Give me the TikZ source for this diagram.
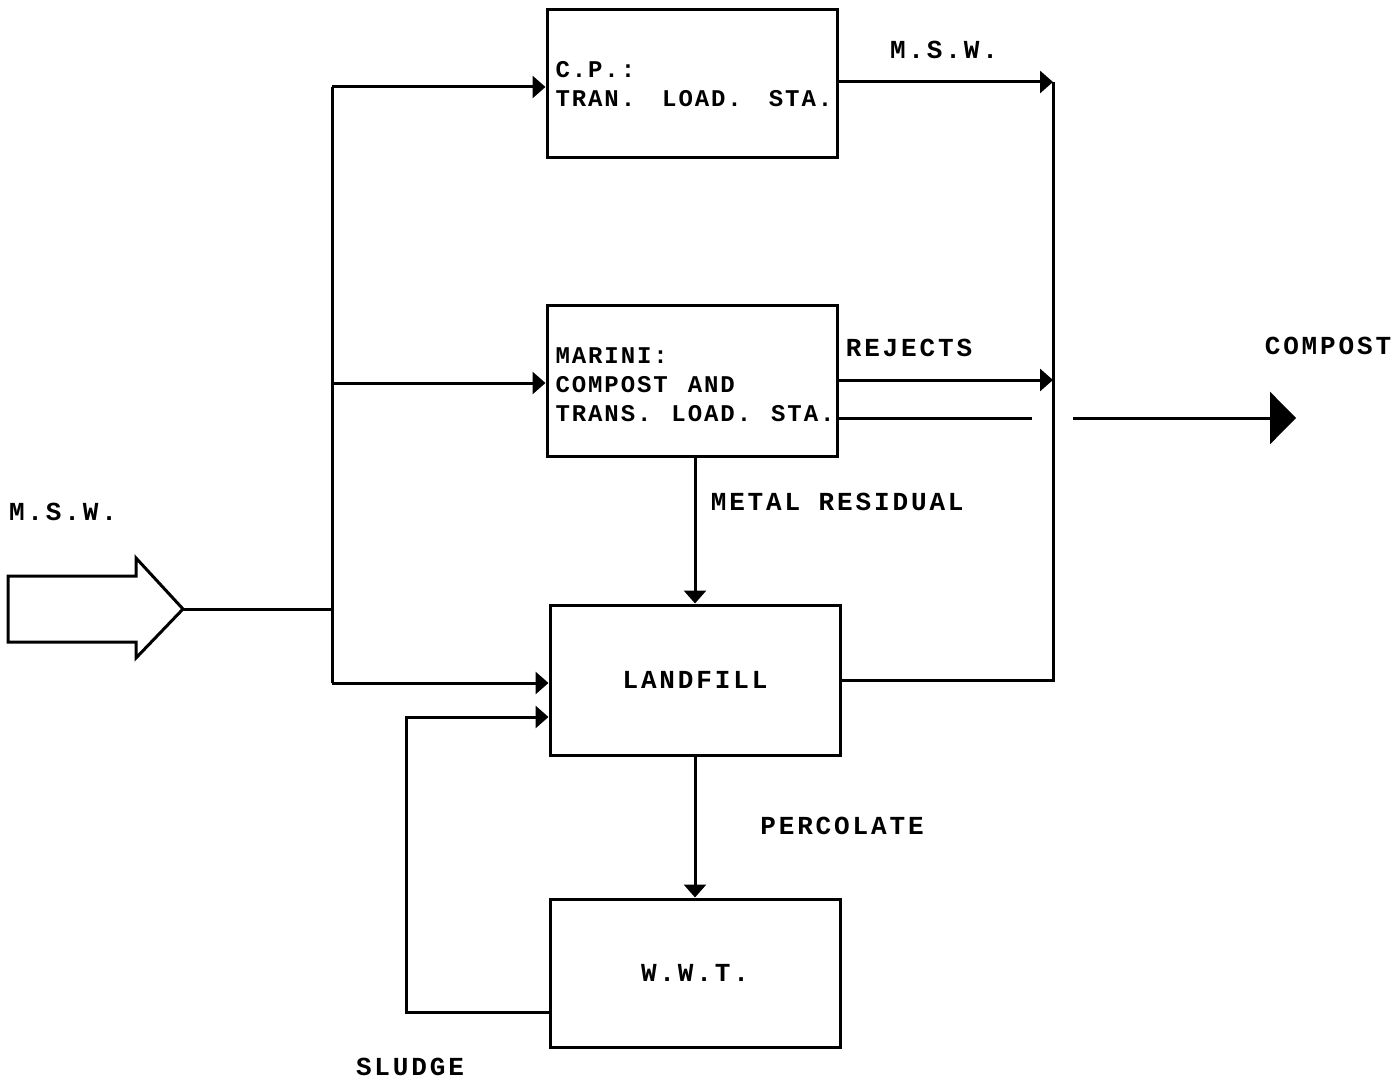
\documentclass[tikz,border=0pt]{standalone}
\usepackage{fontspec}
\newfontfamily\fuenteetiq[LetterSpace=11]{Liberation Mono}
\newfontfamily\fuentecaja[LetterSpace=8]{Liberation Mono}
\usetikzlibrary{positioning, arrows.meta, calc}
\newcommand{\esp}[1][20pt]{\hspace{#1}} % espacio ancho entre palabras de las cajas

\begin{document}
\begin{tikzpicture}[x=1pt, y=-1pt, line width=3pt,
		>={Triangle[length=13pt, width=22pt]},
		caja/.style={draw, minimum width=290pt, minimum height=148pt, inner sep=0pt},
		rotulo/.style={font=\fontsize{26}{29}\fuenteetiq\bfseries},
		textocaja/.style={font=\fontsize{24}{29}\fuentecaja\bfseries, text width=277pt, align=left}]
		
		% Parámetros geométricos
		\def\Xbus{332}      % Colector vertical de entrada
		\def\Xsal{1053}     % Colector vertical de salida
		
		\useasboundingbox (0,0) rectangle (1400,1083);
		
		% --- 1. CAJAS DEL PROCESO ---
		\node[caja] (cp) at (692,84) {};
		\node[textocaja] at ($(cp.center)+(2,0)$) {C.P.:\\TRAN.\esp[27pt]LOAD.\esp[27pt]STA.};
		\node[caja, minimum height=150pt] (marini) at (692,381) {};
		\node[textocaja] at ($(marini.center)+(2,4)$) {MARINI:\\COMPOST\esp AND\\TRANS.\esp LOAD.\esp STA.};
		\node[caja, minimum height=150pt, rotulo] (landfill) at (695,680) {LANDFILL};
		\node[caja, rotulo] (wwt) at (695,973) {W.W.T.};
		
		% --- 2. ENTRADA DE RESIDUOS (M.S.W.) ---
		\draw (8,576) -- (136,576) -- (136,558) -- (183,609) coordinate (punta)
		      -- (136,658) -- (136,642) -- (8,642) -- cycle;
		\node[rotulo] (msw) at (63,512) {M.S.W.};
		\coordinate (bus) at (\Xbus,609);
		\draw (punta) -- (bus);
		
		% Colector y ramales hacia las cajas
		\coordinate (busA) at (\Xbus,87);
		\coordinate (busB) at (\Xbus,383);
		\coordinate (busC) at (\Xbus,683);
		\draw (busA) -- (busC);
		\draw[->] (busA) -- (busA -| cp.west);
		\draw[->] (busB) -- (busB -| marini.west);
		\draw[->] (busC) -- (busC -| landfill.west);
		
		% --- 3. FLUJOS INTERNOS ---
		\draw[->] (marini.south -| 695,0) -- (landfill.north);
		\node[rotulo, anchor=west] (metal) at (706,502) {METAL RESIDUAL};
		\draw[->] (landfill.south) -- (wwt.north);
		\node[rotulo] (percolate) at (842,826) {PERCOLATE};
		
		% Retorno de lodos
		\coordinate (lodoA) at (406,1012);
		\coordinate (lodoB) at (406,717);
		\draw[->] (lodoA -| wwt.west) -- (lodoA) -- (lodoB) -- (lodoB -| landfill.west);
		\node[rotulo] (sludge) at (410,1067) {SLUDGE};
		
		% --- 4. SALIDAS ---
		\coordinate (salA) at (\Xsal,82);
		\coordinate (salB) at (\Xsal,380);
		\coordinate (salC) at (\Xsal,680);
		\draw[->] (salA -| cp.east) -- (salA);
		\node[rotulo] (msw2) at (944,50) {M.S.W.};
		\draw (salA) -- (salC) -- (landfill.east);
		\draw[->] (salB -| marini.east) -- (salB);
		\node[rotulo] (rejects) at (909,348) {REJECTS};
		
		% Salida de compost
		\coordinate (compA) at (1032,418);
		\coordinate (compB) at (1073,418);
		\coordinate (compC) at (1296,418);
		\draw (compA -| marini.east) -- (compA);
		\draw[-{Triangle[length=26pt, width=52pt]}] (compB) -- (compC);
		\node[rotulo] (compost) at (1328,346) {COMPOST};
		
	\end{tikzpicture}
\end{document}
